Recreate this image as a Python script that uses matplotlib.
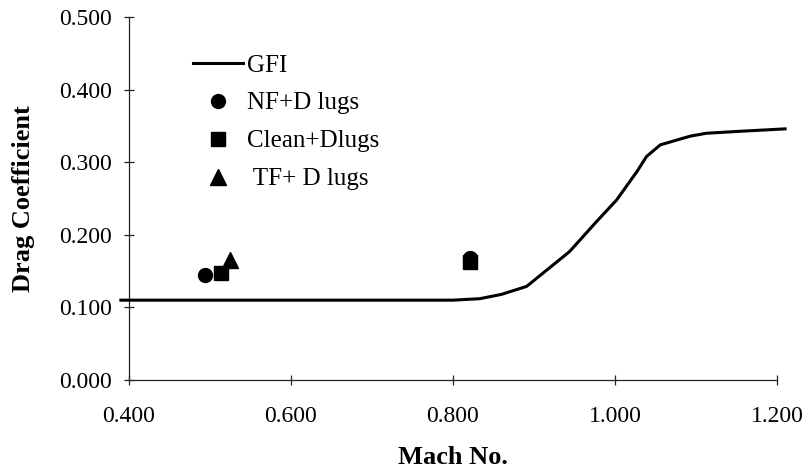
import matplotlib.pyplot as plt
from matplotlib.lines import Line2D

plt.rcParams['font.family'] = ['Liberation Serif', 'DejaVu Serif']

# GFI curve
gfi_mach = [0.390, 0.500, 0.600, 0.700, 0.800, 0.833, 0.860, 0.891, 0.944, 0.977,
            1.002, 1.027, 1.039, 1.056, 1.093, 1.113, 1.160, 1.210]
gfi_cd = [0.110, 0.110, 0.110, 0.110, 0.110, 0.112, 0.118, 0.129, 0.177, 0.218,
          0.248, 0.287, 0.308, 0.324, 0.336, 0.340, 0.343, 0.346]

# test points
nf_mach = [0.494, 0.821]
nf_cd = [0.145, 0.168]
clean_mach = [0.514, 0.821]
clean_cd = [0.147, 0.162]
tf_mach = [0.525]
tf_cd = [0.165]

xticks = [0.4, 0.6, 0.8, 1.0, 1.2]
yticks = [0.0, 0.1, 0.2, 0.3, 0.4, 0.5]

fig = plt.figure(figsize=(8.06, 4.75), dpi=100)
ax = fig.add_axes([0.160, 0.200, 0.804, 0.764])

ax.plot(gfi_mach, gfi_cd, color='black', lw=2.2, clip_on=False, zorder=3)
ax.plot(nf_mach, nf_cd, 'o', color='black', ms=10, zorder=4)
ax.plot(clean_mach, clean_cd, 's', color='black', ms=9.5, zorder=4)
ax.plot(tf_mach, tf_cd, '^', color='black', ms=11, zorder=4)

ax.set_xlim(0.4, 1.2)
ax.set_ylim(0.0, 0.5)
ax.set_xticks(xticks)
ax.set_yticks(yticks)
ax.set_xticklabels(['%.3f' % v for v in xticks])
ax.set_yticklabels(['%.3f' % v for v in yticks])

for s in ['top', 'right']:
    ax.spines[s].set_visible(False)
for s in ['left', 'bottom']:
    ax.spines[s].set_linewidth(0.9)
    ax.spines[s].set_color('#222222')

ax.tick_params(axis='both', direction='inout', length=7, width=0.9,
               colors='#222222', labelcolor='black', labelsize=17)
ax.tick_params(axis='y', pad=9)
ax.tick_params(axis='x', pad=15)

ax.set_xlabel('Mach No.', fontsize=19, fontweight='bold', labelpad=14)
ax.set_ylabel('Drag Coefficient', fontsize=19, fontweight='bold', labelpad=17)

handles = [
    Line2D([], [], color='black', lw=2.2),
    Line2D([], [], marker='o', ls='none', color='black', ms=10),
    Line2D([], [], marker='s', ls='none', color='black', ms=9.5),
    Line2D([], [], marker='^', ls='none', color='black', ms=11),
]
labels = ['GFI', 'NF+D lugs', 'Clean+Dlugs', ' TF+ D lugs']
fig.legend(handles, labels, loc='upper left', bbox_to_anchor=(193 / 806, 1 - 54 / 475),
           frameon=False, fontsize=18, handlelength=2.0, handletextpad=0.15,
           labelspacing=0.62, borderpad=0, borderaxespad=0)

fig.savefig('out.png', dpi=100)
